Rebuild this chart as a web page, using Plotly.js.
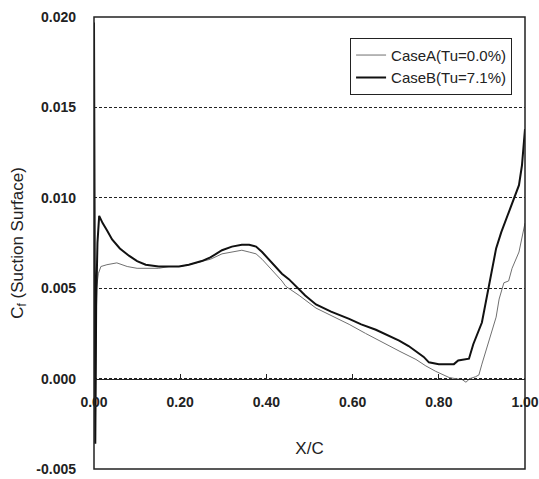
<!DOCTYPE html>
<html>
<head>
<meta charset="utf-8">
<script src="https://cdn.plot.ly/plotly-3.0.1.min.js"></script>
<style>html,body{margin:0;padding:0;background:#fff;}#chart{width:539px;height:479px;}</style>
</head>
<body>
<div id="chart"></div>
<script>
// Case A (Tu=0.0%) - thin grey line
const xA = [0, 0.003, 0.006, 0.010, 0.016, 0.030, 0.053, 0.077, 0.100, 0.128, 0.150, 0.174, 0.200, 0.220, 0.250, 0.270, 0.297, 0.320, 0.343, 0.360, 0.376, 0.390, 0.406, 0.420, 0.436, 0.445, 0.476, 0.515, 0.550, 0.592, 0.630, 0.669, 0.710, 0.747, 0.770, 0.793, 0.810, 0.824, 0.845, 0.854, 0.863, 0.872, 0.885, 0.893, 0.900, 0.910, 0.920, 0.933, 0.940, 0.947, 0.951, 0.962, 0.970, 0.986, 0.993, 0.998, 1.000];
const cfA = [0.0045, -0.0035, 0.0050, 0.0058, 0.0062, 0.0063, 0.0064, 0.0062, 0.0061, 0.0061, 0.0061, 0.0062, 0.0062, 0.0063, 0.0065, 0.0066, 0.0069, 0.0070, 0.0071, 0.0070, 0.0069, 0.0066, 0.0062, 0.0058, 0.0054, 0.0051, 0.0046, 0.0039, 0.0035, 0.0030, 0.0025, 0.0020, 0.0015, 0.00106, 0.0007, 0.0004, 0.0002, 0.00006, -0.00003, -0.00005, -0.0002, 0.0000, 0.0001, 0.0002, 0.0008, 0.0016, 0.0024, 0.0034, 0.0044, 0.0050, 0.0053, 0.0054, 0.0061, 0.0070, 0.0078, 0.0083, 0.0086];

// Case B (Tu=7.1%) - thick black line
const xB = [0, 0.001, 0.003, 0.005, 0.008, 0.012, 0.020, 0.030, 0.042, 0.060, 0.081, 0.100, 0.120, 0.150, 0.174, 0.197, 0.220, 0.250, 0.270, 0.297, 0.320, 0.343, 0.360, 0.376, 0.390, 0.406, 0.420, 0.436, 0.452, 0.468, 0.490, 0.515, 0.550, 0.592, 0.620, 0.654, 0.680, 0.708, 0.730, 0.747, 0.765, 0.777, 0.800, 0.835, 0.845, 0.870, 0.880, 0.900, 0.916, 0.933, 0.945, 0.956, 0.970, 0.986, 0.993, 0.997, 1.000];
const cfB = [0.0197, 0.0080, -0.0036, 0.0040, 0.0075, 0.0090, 0.0086, 0.0082, 0.0077, 0.0072, 0.0068, 0.0065, 0.0063, 0.0062, 0.0062, 0.0062, 0.0063, 0.0065, 0.0067, 0.0071, 0.0073, 0.0074, 0.0074, 0.0073, 0.0070, 0.0066, 0.0062, 0.0058, 0.0055, 0.0051, 0.0046, 0.0041, 0.0037, 0.0033, 0.0030, 0.0027, 0.0024, 0.0021, 0.0018, 0.0015, 0.0012, 0.0009, 0.0008, 0.0008, 0.0010, 0.0011, 0.0019, 0.0031, 0.0050, 0.0072, 0.0081, 0.0088, 0.0096, 0.0107, 0.0118, 0.0130, 0.0138];

const names = ["CaseA(Tu=0.0%)", "CaseB(Tu=7.1%)"];
const xTicks = [0, 0.2, 0.4, 0.6, 0.8, 1.0];
const xTickText = ["0.00", "0.20", "0.40", "0.60", "0.80", "1.00"];
const yTicks = [-0.005, 0, 0.005, 0.010, 0.015, 0.020];
const yTickText = ["-0.005", "0.000", "0.005", "0.010", "0.015", "0.020"];

const FONT = "Liberation Sans, Arial, sans-serif";

const traces = [
  {x: xA, y: cfA, name: names[0], mode: "lines", line: {color: "#707070", width: 1}},
  {x: xB, y: cfB, name: names[1], mode: "lines", line: {color: "#111111", width: 2}}
];

const layout = {
  width: 539, height: 479,
  margin: {l: 94, r: 14, t: 17, b: 10},
  paper_bgcolor: "#fff", plot_bgcolor: "#fff",
  font: {family: FONT, color: "#222"},
  showlegend: true,
  legend: {
    x: 0.97, y: 0.954, xanchor: "right", yanchor: "top",
    bgcolor: "#fff", bordercolor: "#222", borderwidth: 1,
    font: {family: FONT, size: 15, color: "#222"},
    tracegroupgap: 0, itemwidth: 30
  },
  xaxis: {
    range: [0, 1], anchor: "free", position: 0.2, side: "bottom",
    tickvals: xTicks, ticktext: xTickText,
    ticks: "inside", ticklen: 5, tickcolor: "#222",
    showline: true, linecolor: "#222", linewidth: 1.5,
    showgrid: false, zeroline: false,
    tickfont: {family: FONT, size: 14, color: "#222", weight: "bold"},
    ticklabelstandoff: 10,
    ticklabeloverflow: "allow",
    title: {text: "X/C", font: {family: FONT, size: 17, color: "#222"}, standoff: 33},
    automargin: false
  },
  yaxis: {
    range: [-0.005, 0.020],
    tickvals: yTicks, ticktext: yTickText,
    ticks: "", showline: false, zeroline: false,
    showgrid: true, gridcolor: "#222", gridwidth: 1, griddash: "3px,2px",
    tickfont: {family: FONT, size: 14, color: "#222", weight: "bold"},
    ticklabelstandoff: 17,
    ticklabeloverflow: "allow",
    title: {text: "C<sub>f</sub> (Suction Surface)", font: {family: FONT, size: 17, color: "#222"}, standoff: 8},
    automargin: false
  },
  shapes: [
    {type: "rect", xref: "paper", yref: "paper", x0: 0, x1: 1, y0: 0, y1: 1,
     line: {color: "#222", width: 1.5}, layer: "above"}
  ]
};

Plotly.newPlot("chart", traces, layout, {displayModeBar: false, staticPlot: true});
</script>
</body>
</html>
